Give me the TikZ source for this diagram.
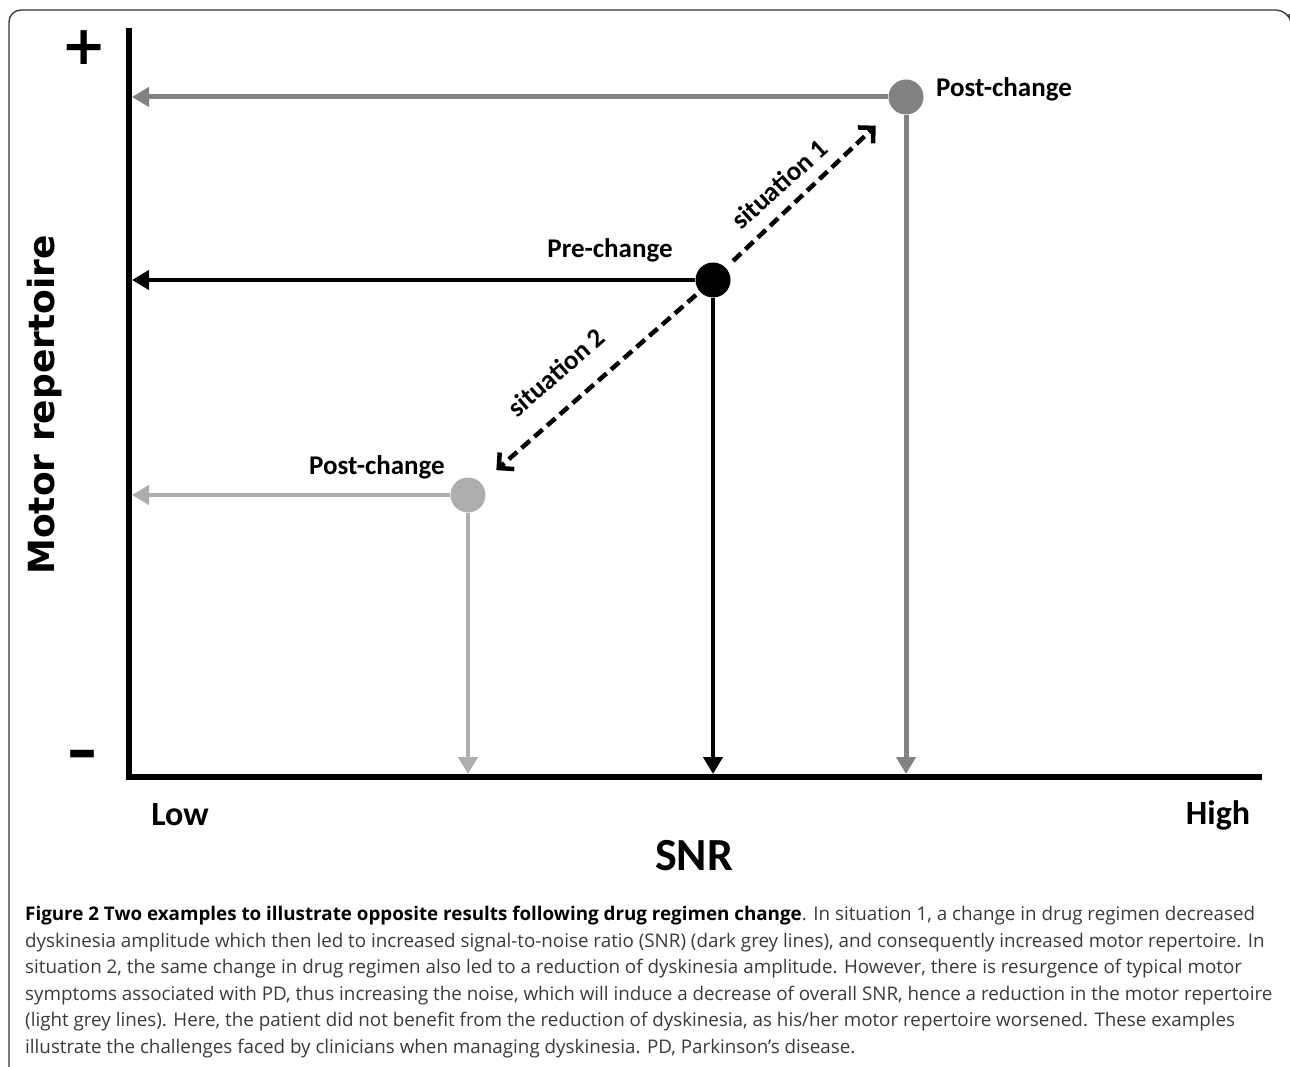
\documentclass[tikz,border=0pt]{standalone}
\usepackage{fontspec}
\setmainfont{Open Sans}
\newfontfamily\calfont{Carlito}
\newfontfamily\dvfont{DejaVu Sans}
\usetikzlibrary{arrows.meta}
\definecolor{midgray}{HTML}{828282}
\definecolor{lightgrayb}{HTML}{AEAEAE}
\definecolor{captext}{HTML}{3A3A3A}
\begin{document}
\begin{tikzpicture}[x=1pt,y=-1pt,
  dot/.style={circle, inner sep=0pt, minimum size=35pt},
  lbl/.style={font=\calfont\bfseries\fontsize{27}{32}\selectfont, inner sep=0pt},
  axlbl/.style={font=\calfont\bfseries\fontsize{34}{40}\selectfont, inner sep=0pt},
  gline/.style={line width=5pt, draw=#1, -{Triangle[length=17pt,width=19pt]}},
  dasharrow/.style={line width=4.5pt, dash pattern=on 11pt off 6pt, -{Straight Barb[length=11pt,width=22pt]}}
]
\useasboundingbox (0,0) rectangle (1290,1067);
% frame
\draw[line width=1.3pt, draw=black!80, rounded corners=12pt] (9,1067) -- (9,10) -- (1288,10) -- (1289,14);
% axes
\coordinate (ytop) at (129,28);
\coordinate (O) at (129,777);
\coordinate (xend) at (1262,777);
\draw[line width=6pt] (ytop) -- (O) -- (xend);
% axis texts
\node[font=\dvfont\bfseries\fontsize{54}{60}\selectfont, inner sep=0pt] (plus) at (84,48) {+};
\node[font=\dvfont\bfseries\fontsize{60}{60}\selectfont, inner sep=0pt] (minus) at (82,760) {–};
\node[font=\dvfont\bfseries\fontsize{36}{40}\selectfont, inner sep=0pt, rotate=90] (ylab) at (45,405) {Motor repertoire};
\node[axlbl] (low) at (180,815) {Low};
\node[axlbl] (high) at (1218,815) {High};
\node[font=\calfont\bfseries\fontsize{46}{50}\selectfont, inner sep=0pt] (snr) at (694,856) {SNR};
% points
\node[dot, fill=midgray] (post1) at (906,97) {};
\node[dot, fill=black] (pre) at (713,280) {};
\node[dot, fill=lightgrayb] (post2) at (468,495) {};
% projections
\draw[gline=midgray, shorten >=3pt] (post1) -- (post1 -| O);
\draw[gline=midgray, shorten >=3pt] (post1) -- (post1 |- O);
\draw[gline=black, line width=4.5pt, shorten >=3pt] (pre) -- (pre -| O);
\draw[gline=black, line width=4.5pt, shorten >=3pt] (pre) -- (pre |- O);
\draw[gline=lightgrayb, line width=4.5pt, shorten >=3pt] (post2) -- (post2 -| O);
\draw[gline=lightgrayb, line width=4.5pt, shorten >=3pt] (post2) -- (post2 |- O);
% transitions
\draw[dasharrow, shorten <=10pt, shorten >=24pt] (pre) -- (post1);
\draw[dasharrow, shorten <=5pt, shorten >=20pt] (pre) -- (post2);
% labels
\node[lbl, anchor=west] (lpost1) at (936,89) {Post-change};
\node[lbl] (lpre) at (610,250) {Pre-change};
\node[lbl] (lpost2) at (377,467) {Post-change};
\node[lbl, rotate=42] (s1) at (779,184) {situation 1};
\node[lbl, rotate=41] (s2) at (556,372) {situation 2};
% caption
\node[anchor=north west, inner sep=0pt, align=left, text=captext,
      font=\fontsize{18.8}{26.6}\selectfont] (cap) at (25,906)
{\textcolor{black}{\bfseries Figure 2 Two examples to illustrate opposite results following drug regimen change}. In situation 1, a change in drug regimen decreased\\
dyskinesia amplitude which then led to increased signal-to-noise ratio (SNR) (dark grey lines), and consequently increased motor repertoire. In\\
situation 2, the same change in drug regimen also led to a reduction of dyskinesia amplitude. However, there is resurgence of typical motor\\
symptoms associated with PD, thus increasing the noise, which will induce a decrease of overall SNR, hence a reduction in the motor repertoire\\
(light grey lines). Here, the patient did not benefit from the reduction of dyskinesia, as his/her motor repertoire worsened. These examples\\
illustrate the challenges faced by clinicians when managing dyskinesia. PD, Parkinson’s disease.};
\end{tikzpicture}
\end{document}
